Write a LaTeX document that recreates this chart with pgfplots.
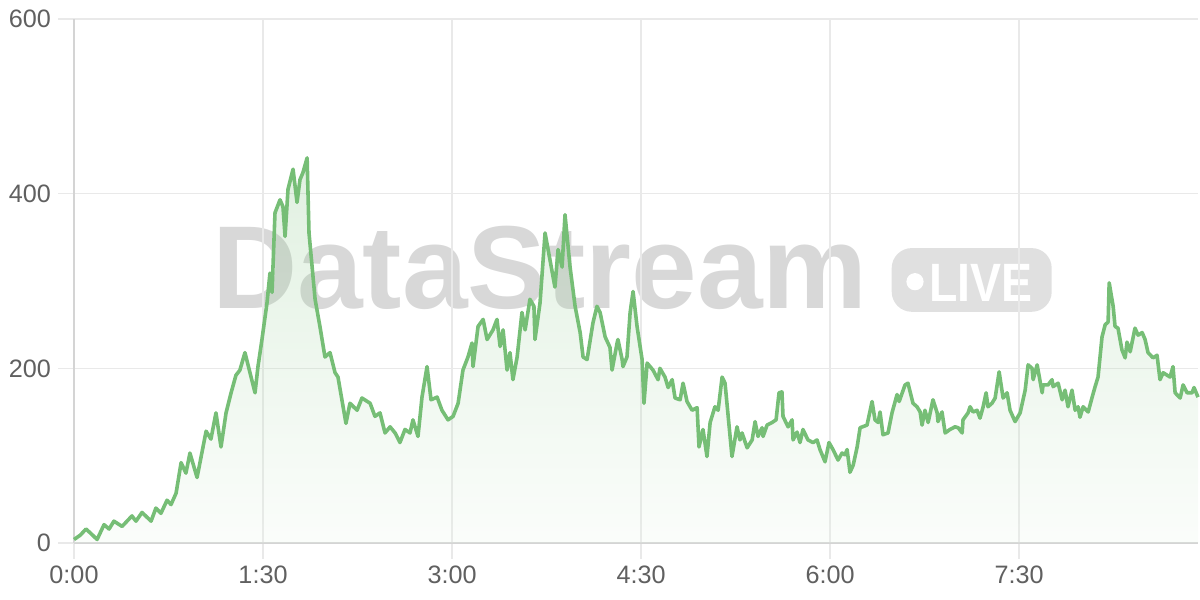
\documentclass[border=0pt]{standalone}
\usepackage{fontspec}
\setmainfont{Liberation Sans}
\usepackage{pgfplots}
\pgfplotsset{compat=1.18}
\usepackage{pgfplotstable}
\definecolor{linec}{RGB}{118,190,118}
\definecolor{gridc}{RGB}{233,233,233}
\definecolor{axisc}{RGB}{212,212,212}
\definecolor{labc}{RGB}{96,96,96}
\definecolor{wmc}{RGB}{216,216,216}
\definecolor{badgec}{RGB}{224,224,224}

\pgfplotstableread{
x y
0 4
3 9
5.7 16
8 11
11 4
14.3 21
16.7 16
19 25
22.9 19
27.6 31
29.5 25
32.4 35
36.7 25
39 40
41.4 34
44.3 49
46.2 44
48.6 57
51 92
53.3 80
55.2 103
58.6 75
62.9 128
65.2 119
67.6 149
70 110
72.4 149
74.8 172
77.1 192
79 198
81.4 218
83.8 195
86.2 172
87.6 202
89.5 233
91.9 275
93.3 309
94.3 287
95.7 378
98.1 393
99.5 385
100.5 351
101.9 405
104.3 428
106.2 390
107.6 416
109 424
111 441
111.9 355
114.8 279
117.1 248
119.5 213
121.9 218
124.3 195
125.7 190
129.5 137
131.4 160
134.8 152
137.1 166
141 160
143.3 145
145.7 149
148.1 126
150.5 133
152.9 126
155.2 115
157.6 130
160 126
161.4 141
163.8 122
165.7 167
168.1 202
170 164
172.9 167
175.2 152
178.1 141
180.5 145
182.9 160
185.2 198
187.6 213
189.5 229
190 202
192.4 248
194.8 256
196.7 233
199.5 244
201.4 256
202.9 225
204.3 244
206.2 198
207.6 218
209 187
211 213
213.3 264
214.8 244
217.1 279
219 271
219.5 233
221.9 275
224.3 355
229 293
230.5 336
232.4 316
233.8 376
236.2 316
238.6 271
241 241
242.4 213
244.3 210
247.1 252
249 271
250.5 264
252.9 236
255.2 224
256.2 198
258.6 229
259 233
261 210
261.4 202
263.3 213
264.8 264
266.2 288
268.1 248
270.5 210
271.4 160
272.9 206
275.7 198
278.1 187
279 200
281.4 190
282.9 178
284.8 187
286.2 166
288.6 164
290 183
291.9 162
294.3 152
296.7 155
297.6 110
299.5 130
301.4 99
302.9 138
305.2 156
306.7 152
308.6 190
310 183
313.3 99
315.7 133
317.1 118
318.1 126
320.5 109
322.9 118
324.3 139
325.7 122
327.6 132
328.1 122
330 135
332.4 138
334.3 141
335.7 172
337.1 173
337.6 145
340 133
341.9 141
342.4 118
344.3 127
345.7 115
347.1 130
349.5 118
351.9 115
353.8 118
355.2 107
357.6 93
359.5 115
361.4 107
363.8 95
365.7 103
367.1 101
368.1 107
369.5 81
371 89
372.9 110
374.3 132
377.6 135
380 162
381.4 141
382.9 138
383.8 150
385.2 124
387.6 126
389.5 149
391.9 170
392.9 162
395.7 181
397.1 183
399.5 160
401.4 156
402.9 150
403.8 135
405.2 152
406.7 138
409 164
411 149
411.4 139
413.3 150
414.8 126
417.1 130
419.5 133
421 132
422.9 126
423.3 141
425.7 149
426.7 156
428.1 150
430 152
431.4 143
432.9 156
434.3 172
435.2 156
437.1 160
438.6 166
440.5 196
442.4 166
444.3 172
445.7 152
448.1 139
450.5 149
452.9 175
454.3 204
456.2 200
456.7 187
458.6 204
461 172
461.4 181
463.8 181
465.7 187
466.2 179
468.6 183
470.5 164
471.9 175
473.3 156
475.2 175
476.7 152
478.1 156
479 144
480.5 156
482.9 150
484.8 167
486.2 179
487.6 190
489.5 236
491 250
492.4 253
492.9 298
494.8 271
495.7 248
497.1 246
499 221
500.5 212
501.4 230
502.9 219
505.2 246
506.7 238
508.6 241
510 233
511.4 218
513.8 212
515.7 215
517.1 187
518.6 195
521.9 190
523.3 202
524.3 172
526.7 166
528.1 181
530 172
532.4 172
533.3 178
535.2 167
}\datatab

\begin{document}
\begin{tikzpicture}
% watermark (behind the chart), positions relative to the axis box origin
\node[text=wmc, font=\fontsize{59}{60}\selectfont\bfseries, inner sep=0pt, anchor=center] at (233pt,137.5pt) {DataStream};
\fill[badgec, rounded corners=10pt] (408.85pt,115.6pt) rectangle (488.85pt,147.45pt);
\fill[white] (420.5pt,130.65pt) circle (4.3pt);
\node[text=white, font=\fontsize{27}{28}\selectfont\bfseries, inner sep=0pt, xscale=0.86, anchor=center] at (453.5pt,130.25pt) {LIVE};
\begin{axis}[
  scale only axis,
  width=562pt, height=262pt,
  xmin=0, xmax=535.2, ymin=0, ymax=600,
  xtick={0,90,180,270,360,450},
  xticklabels={0:00,1:30,3:00,4:30,6:00,7:30},
  ytick={0,200,400,600},
  axis x line*=bottom, axis y line*=left,
  axis line style={-, color=axisc, line width=1pt},
  grid=major,
  major grid style={color=gridc, line width=0.8pt},
  tick align=outside,
  major tick length=8pt,
  tick style={color=gridc, line width=0.8pt},
  ticklabel style={font=\fontsize{12.6}{14}\selectfont, text=labc},
  /pgf/number format/assume math mode=true,
  clip=false,
]
\addplot[draw=none, top color=linec, bottom color=linec!15!white, fill opacity=0.22, forget plot] table[x=x,y=y]{\datatab} \closedcycle;
\addplot[color=linec, line width=1.8pt, line join=round, mark=none] table[x=x,y=y]{\datatab};
\end{axis}
\pgfresetboundingbox
\path[use as bounding box] ([xshift=-37pt,yshift=-28.5pt]current axis.south west) rectangle ([xshift=1pt,yshift=9.5pt]current axis.north east);
\end{tikzpicture}
\end{document}
